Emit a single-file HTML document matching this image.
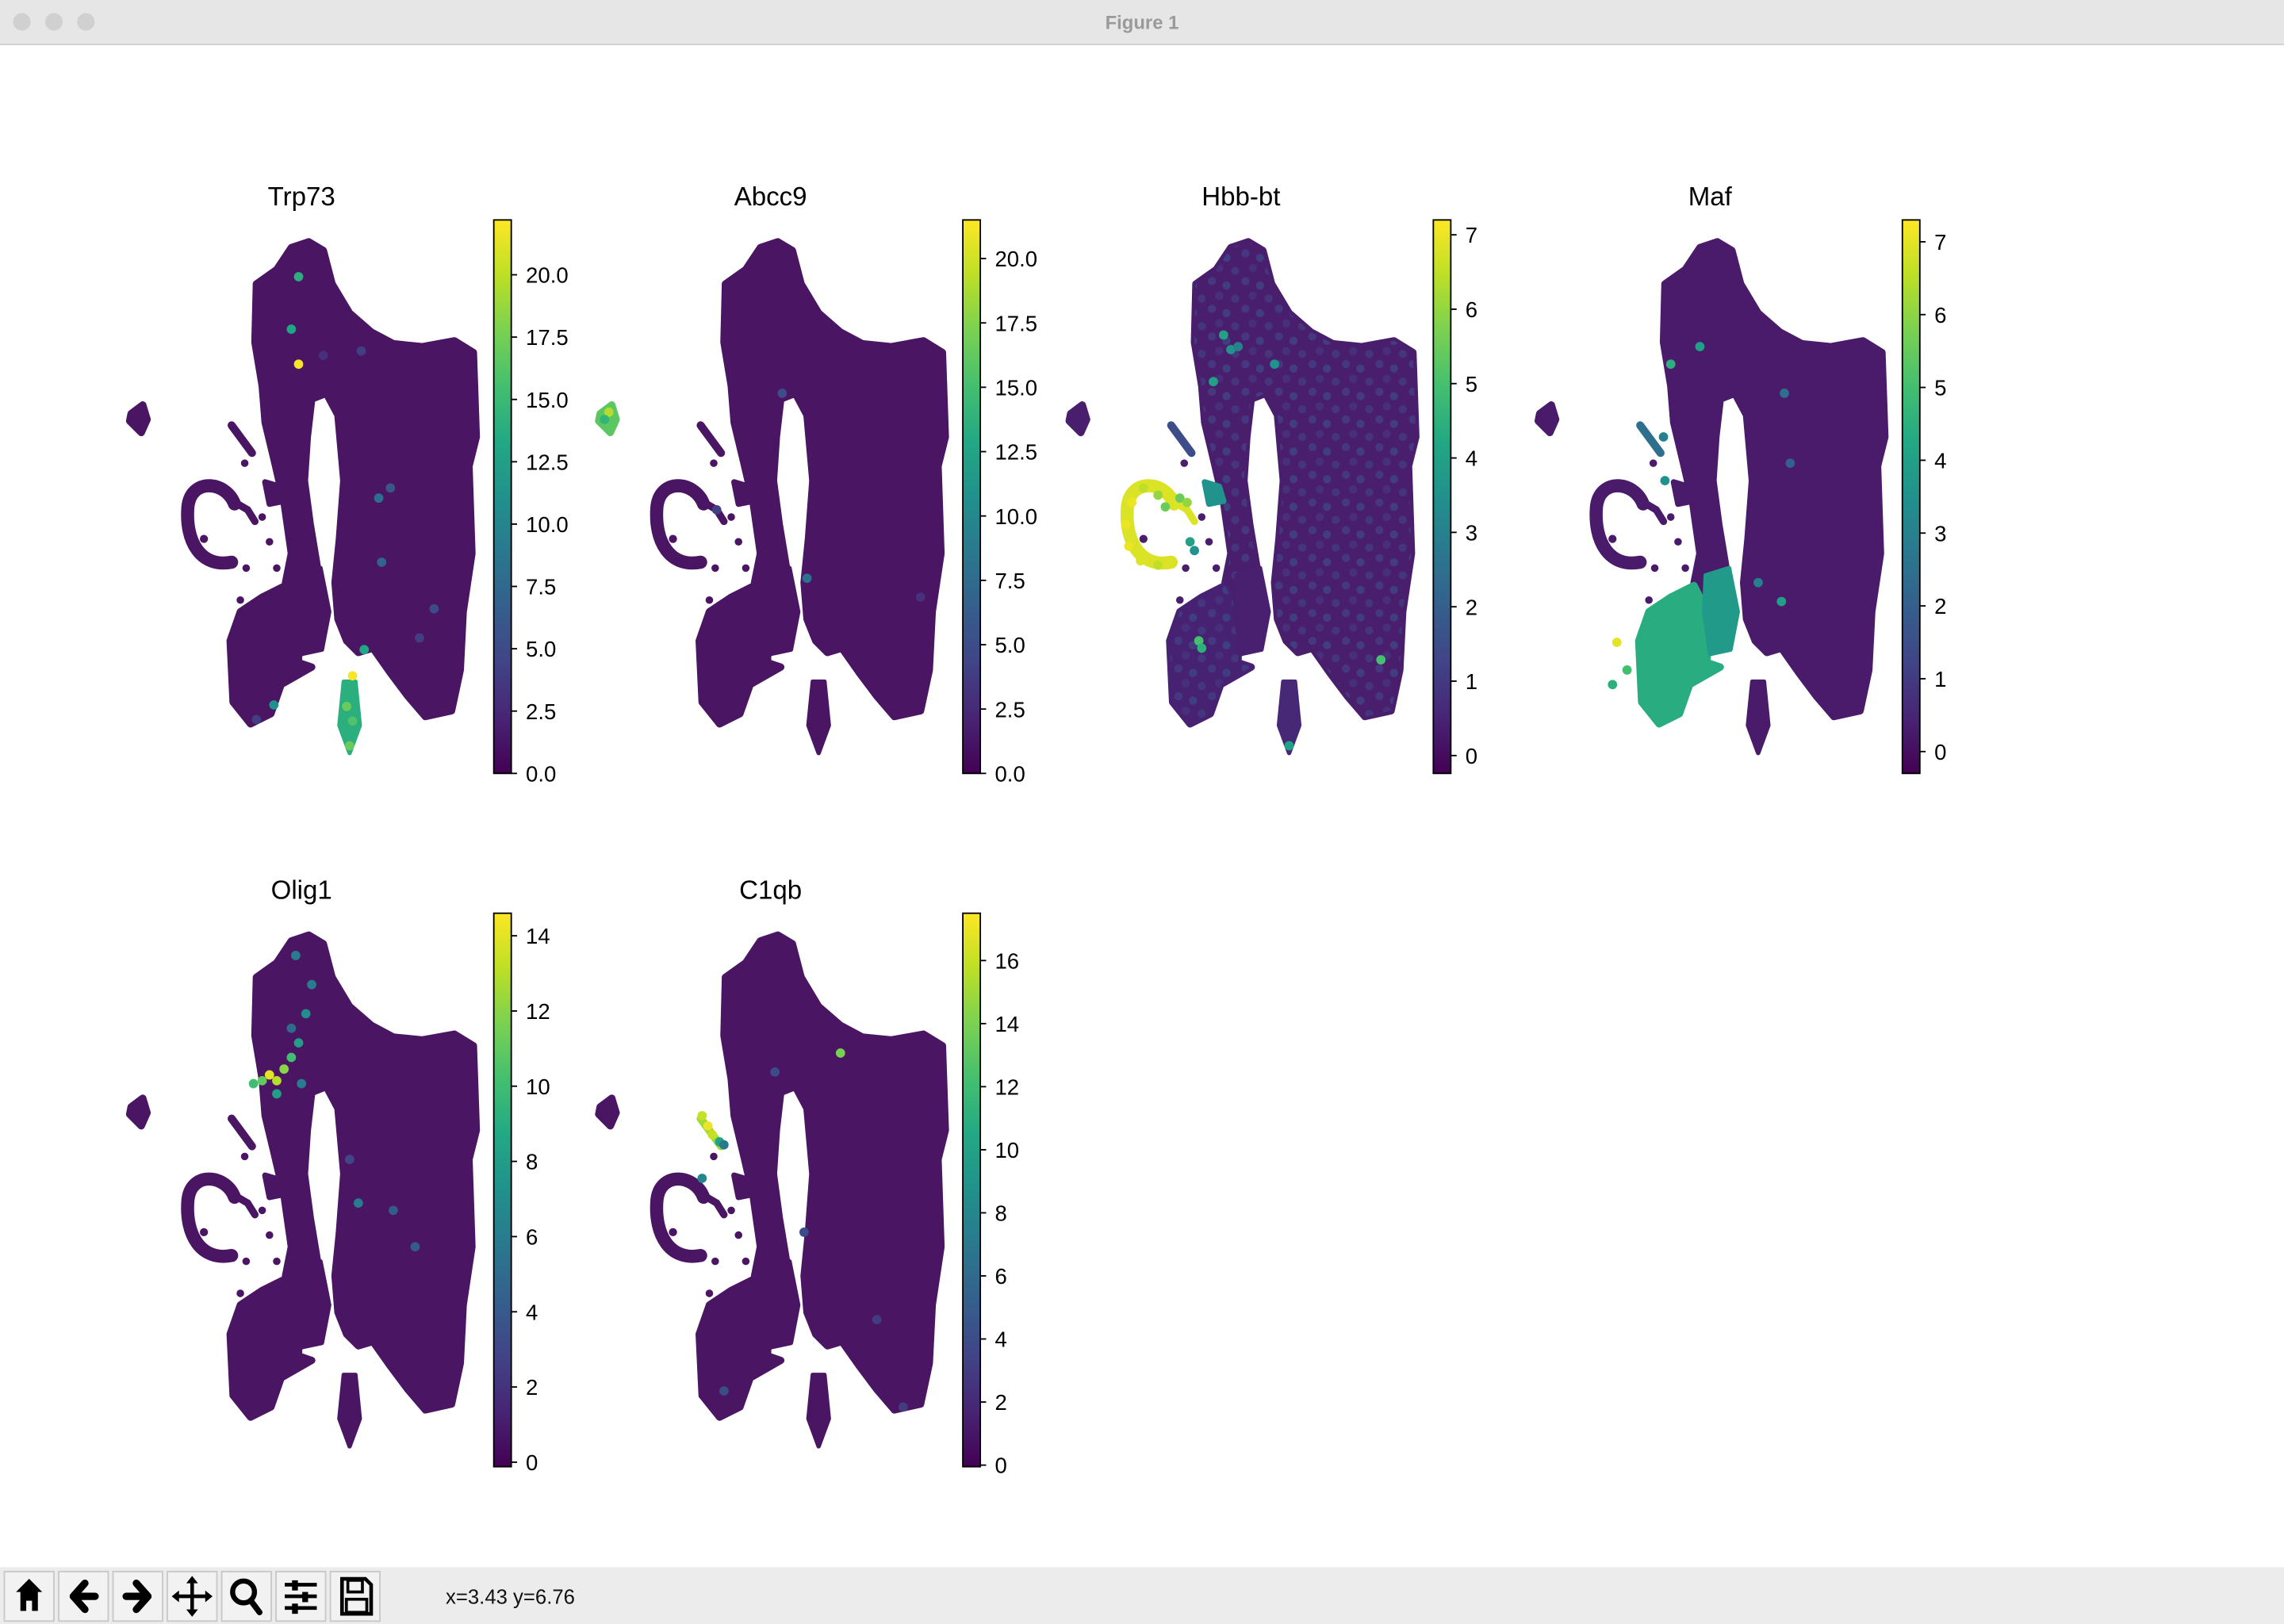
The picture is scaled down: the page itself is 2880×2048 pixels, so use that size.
<!DOCTYPE html>
<html><head><meta charset="utf-8"><style>
html,body{margin:0;padding:0;background:#fff;}
svg{display:block;font-family:"Liberation Sans","DejaVu Sans",sans-serif;}
</style></head><body>
<svg id="fig" width="2880" height="2048" viewBox="0 0 1568 1115" preserveAspectRatio="none" xmlns="http://www.w3.org/2000/svg">
<defs>
<linearGradient id="vir" x1="0" y1="1" x2="0" y2="0">
<stop offset="0" stop-color="#440154"/><stop offset="0.1" stop-color="#482475"/><stop offset="0.2" stop-color="#414487"/><stop offset="0.3" stop-color="#355f8d"/><stop offset="0.4" stop-color="#2a788e"/><stop offset="0.5" stop-color="#21918c"/><stop offset="0.6" stop-color="#22a884"/><stop offset="0.7" stop-color="#44bf70"/><stop offset="0.8" stop-color="#7ad151"/><stop offset="0.9" stop-color="#bddf26"/><stop offset="1" stop-color="#fde725"/>
</linearGradient>
<pattern id="speck" width="23" height="19" patternUnits="userSpaceOnUse">
<circle cx="3" cy="3" r="2.8" fill="#433e85" opacity="0.8"/><circle cx="13" cy="6" r="2.8" fill="#3e4a89" opacity="0.7"/>
<circle cx="8" cy="13" r="2.8" fill="#46337e" opacity="0.8"/><circle cx="19" cy="15" r="2.8" fill="#414487" opacity="0.6"/>
</pattern>
</defs>
<rect x="0" y="0" width="1568" height="31" fill="#e6e6e6"/>
<line x1="0" y1="30.5" x2="1568" y2="30.5" stroke="#d0d0d0"/>
<circle cx="15" cy="15" r="6" fill="#d0d0d0"/>
<circle cx="37" cy="15" r="6" fill="#d0d0d0"/>
<circle cx="59" cy="15" r="6" fill="#d0d0d0"/>
<text x="784" y="20" text-anchor="middle" font-size="13" font-weight="bold" fill="#9a9a9a">Figure 1</text>
<g id="panels"></g>
<rect x="0" y="1076" width="1568" height="39" fill="#ececec"/>
<g id="tools"></g>
<text x="306" y="1101" font-size="14" fill="#111">x=3.43 y=6.76</text>
</svg>
<script>
// ---- data ----
const titles = ["Trp73","Abcc9","Hbb-bt","Maf","Olig1","C1qb"];
const vmins = [0,0,-0.24,-0.3,-0.12,-0.05];
const vmaxs = [22.2,21.5,7.2,7.3,14.6,17.5];
const ticks0 = [0,2.5,5,7.5,10,12.5,15,17.5,20];
const ticks1 = [0,2.5,5,7.5,10,12.5,15,17.5,20];
const ticks2 = [0,1,2,3,4,5,6,7];
const ticks3 = [0,1,2,3,4,5,6,7];
const ticks4 = [0,2,4,6,8,10,12,14];
const ticks5 = [0,2,4,6,8,10,12,14,16];
const tickSets = [ticks0,ticks1,ticks2,ticks3,ticks4,ticks5];
const tickDec = [1,1,0,0,0,0];
// region values: main, lobe, column, loop, island, streak, blob, tail
const regionNames = ["main","lobe","column","loop","island","streak","blob","tail"];
const reg0 = [0,0,0,0,0,0,0,14];
const reg1 = [0,0,0,0,0,0,16,0];
const reg2 = [0.2,0.4,0.3,6.8,3.5,1.5,0.2,0.6];
const reg3 = [0,4.4,3.8,0,0,2.5,0,0];
const reg4 = [0,0,0,0,0,0,0,0];
const reg5 = [0,0,0,0,0,15,0,0];
const regionVals = [reg0,reg1,reg2,reg3,reg4,reg5];
// highlighted cells [x, y, value] in panel coordinates
const pts0 = [[205,190,14],[200,226,13],[205,250,22],[248,241,4],[222,244,3],[268,335,6],[262,386,7],[250,446,13],[242,464,22],[238,485,17],[242,495,16],[238,505,14],[240,512,17],[176,494,4],[188,484,11],[298,418,5],[260,342,8],[288,438,4]];
const pts1 = [[96,283,19],[99,291,16],[93,288,14],[232,397,8],[170,350,4],[215,270,5],[310,410,3]];
const pts2 = [[128,360,7],[132,345,7],[140,335,6.5],[150,340,6],[155,348,5.5],[130,375,7],[138,385,6.8],[150,388,6.5],[165,342,5.5],[170,345,6],[172,372,4],[175,378,3.5],[178,440,5],[180,445,4.5],[303,453,5],[240,512,4],[195,230,4],[200,240,3.5],[188,262,4],[230,250,3.5],[205,238,3]];
const pts3 = [[143,441,7],[150,460,5],[140,470,4.5],[175,300,3],[176,330,3.5],[180,250,4.5],[200,238,4],[256,413,4],[240,400,3],[258,270,2.5],[262,318,2]];
const pts4 = [[185,262,14],[190,266,13],[180,266,11],[195,258,12],[174,268,10],[200,250,10],[205,240,8],[210,220,7],[214,200,6],[203,180,6],[200,230,5],[207,268,6],[190,275,8],[246,350,6],[270,355,4],[240,320,3],[285,380,4]];
const pts5 = [[160,290,16],[164,297,17],[167,303,16],[172,308,10],[175,310,7],[160,333,8],[210,260,4],[255,247,14],[230,370,4],[280,430,3],[175,479,4],[298,490,3]];
const ptSets = [pts0,pts1,pts2,pts3,pts4,pts5];

// ---- layout ----
const panelDX = [0,322,645,967,0,322];
const panelDY = [0,0,0,0,476,476];
const cbX = [339,661,984,1306,339,661];
const cbTop = [151,151,151,151,627,627];
const cbH = 380;

const stops = ["#4a1562","#482475","#414487","#355f8d","#2a788e","#21918c","#22a884","#44bf70","#7ad151","#bddf26","#fde725"];
function hx(c){return [1,3,5].map(i=>parseInt(c.substr(i,2),16));}
function viridis(t){t=Math.max(0,Math.min(1,t));const f=t*10,i=Math.min(9,Math.floor(f)),r=f-i;const a=hx(stops[i]),b=hx(stops[i+1]);return "rgb("+a.map((v,k)=>Math.round(v+(b[k]-v)*r)).join(",")+")";}

const NS="http://www.w3.org/2000/svg";
function mk(tag,attrs,parent){const e=document.createElementNS(NS,tag);for(const k in attrs)e.setAttribute(k,attrs[k]);parent.appendChild(e);return e;}

const mainPath="M212,166 L222,172 L228,195 L240,215 L255,228 L270,236 L290,238 L312,234 L325,242 L327,300 L322,320 L324,380 L318,420 L316,460 L310,488 L292,492 L280,478 L268,462 L256,445 L246,448 L238,440 L232,425 L230,400 L233,370 L236,330 L232,285 L224,270 L214,274 L211,300 L209,330 L213,360 L218,390 L222,420 L212,440 L205,450 L205,420 L196,400 L200,380 L195,345 L188,315 L182,290 L180,265 L175,235 L176,195 L190,185 L200,170 Z";
const lobePath="M158,440 L165,420 L180,410 L196,402 L205,420 L205,455 L214,458 L193,470 L186,490 L172,497 L160,482 Z";
const columnPath="M204,395 L220,390 L226,420 L221,446 L207,449 L203,420 Z";
const tailPath="M236,468 L244,468 L247,498 L240,517 L233,498 Z";

const panels=document.getElementById("panels");
for(let p=0;p<6;p++){
  const dx=panelDX[p],dy=panelDY[p],vmin=vmins[p],vmax=vmaxs[p];
  const norm=v=>(v-vmin)/(vmax-vmin);
  const rv=regionVals[p];
  const col=i=>viridis(norm(rv[i]));
  const g=mk("g",{transform:"translate("+dx+","+dy+")"},panels);
  
  
  const t=mk("text",{x:207,y:141,"text-anchor":"middle","font-size":18,fill:"#000"},g);
  t.textContent=titles[p];
  
  
  const sh=mk("g",{},g);
  
  
  mk("path",{d:mainPath,fill:col(0),stroke:col(0),"stroke-width":5,"stroke-linejoin":"round"},sh);
  if(p===2) mk("path",{d:mainPath,fill:"url(#speck)"},sh);
  mk("path",{d:lobePath,fill:col(1),stroke:col(1),"stroke-width":5,"stroke-linejoin":"round"},sh);
  if(p===2) mk("path",{d:lobePath,fill:"url(#speck)"},sh);
  mk("path",{d:columnPath,fill:col(2),stroke:col(2),"stroke-width":3,"stroke-linejoin":"round"},sh);
  mk("path",{d:tailPath,fill:col(7),stroke:col(7),"stroke-width":3,"stroke-linejoin":"round"},sh);
  mk("path",{d:"M161,346 C155,330 131,328 129,348 C127,372 138,390 159,386",fill:"none",stroke:col(3),"stroke-width":9,"stroke-linecap":"round"},sh);
  mk("path",{d:"M158,343 L170,350 L175,358",fill:"none",stroke:col(3),"stroke-width":5,"stroke-linecap":"round"},sh);
  mk("circle",{cx:140,cy:370,r:2.8,fill:col(0)},sh);
  mk("path",{d:"M182,331 L192,334 L195,344 L185,346 Z",fill:col(4),stroke:col(4),"stroke-width":4,"stroke-linejoin":"round"},sh);
  mk("path",{d:"M159,292 L173,311",stroke:col(5),"stroke-width":5.5,"stroke-linecap":"round"},sh);
  mk("path",{d:"M90,284 L98,278 L101,288 L97,297 L89,289 Z",fill:col(6),stroke:col(6),"stroke-width":5,"stroke-linejoin":"round"},sh);
  [[168,318],[180,355],[185,372],[190,390],[169,390],[165,412]].forEach(c=>mk("circle",{cx:c[0],cy:c[1],r:2.6,fill:col(0)},sh));
  const pg=mk("g",{},g);
  
  
  ptSets[p].forEach(d=>{
    const c=mk("circle",{cx:d[0],cy:d[1],r:3.2,fill:viridis(norm(d[2]))},pg);
    
    
  });
  // colorbar
  const cb=mk("g",{},panels);
  
  
  const x0=cbX[p],y0=cbTop[p];
  mk("rect",{x:x0,y:y0,width:12,height:cbH,fill:"url(#vir)",stroke:"#000","stroke-width":1},cb);
  const ys=v=>y0+cbH-(v-vmin)/(vmax-vmin)*cbH;
  tickSets[p].forEach(v=>{
    const y=ys(v);
    mk("line",{x1:x0+12,x2:x0+16,y1:y,y2:y,stroke:"#000","stroke-width":1},cb);
    const tl=mk("text",{x:x0+22,y:y+5.5,"font-size":15,fill:"#000"},cb);
    tl.textContent=v.toFixed(tickDec[p]);
    
    
  });
}
// toolbar
const toolNames=["home-button","back-button","forward-button","pan-button","zoom-rect-button","configure-button","save-button"];
const toolIcons=[
 '<path d="M8,14 L17,5 L26,14 L23,14 L23,27 L19,27 L19,20 L15,20 L15,27 L11,27 L11,14 Z" fill="#000"/>',
 '<path d="M25,17 L12,17 M18,8 L10,17 L18,26" stroke="#000" stroke-width="5" fill="none" stroke-linecap="round" stroke-linejoin="round"/>',
 '<path d="M9,17 L22,17 M16,8 L24,17 L16,26" stroke="#000" stroke-width="5" fill="none" stroke-linecap="round" stroke-linejoin="round"/>',
 '<path d="M17,5 L17,29 M5,17 L29,17" stroke="#000" stroke-width="2.5"/><path d="M17,3 L13,8 L21,8 Z M17,31 L13,26 L21,26 Z M3,17 L8,13 L8,21 Z M31,17 L26,13 L26,21 Z" fill="#000"/>',
 '<circle cx="15" cy="14" r="7.5" stroke="#000" stroke-width="3.5" fill="none"/><path d="M20,20 L26,28" stroke="#000" stroke-width="4" stroke-linecap="round"/>',
 '<path d="M6,9 L28,9 M6,17 L28,17 M6,25 L28,25" stroke="#000" stroke-width="2.5"/><rect x="11" y="6" width="4" height="7" fill="#000"/><rect x="18" y="14" width="4" height="7" fill="#000"/><rect x="11" y="22" width="4" height="7" fill="#000"/>',
 '<path d="M8,5 L24,5 L28,9 L28,29 L8,29 Z" stroke="#000" stroke-width="2.5" fill="none"/><rect x="12" y="6" width="10" height="8" stroke="#000" stroke-width="2" fill="none"/><rect x="11" y="19" width="14" height="9" stroke="#000" stroke-width="2" fill="none"/>'
];
const tools=document.getElementById("tools");
for(let i=0;i<7;i++){
  const x=3+i*37.3;
  const b=mk("g",{transform:"translate("+x+",1079)"},tools);
  
  
  mk("rect",{x:0,y:0,width:34,height:34,fill:"#f2f2f2",stroke:"#c8c8c8","stroke-width":1},b);
  const ig=mk("g",{},b);
  ig.innerHTML=toolIcons[i];
}
</script>
</body></html>
